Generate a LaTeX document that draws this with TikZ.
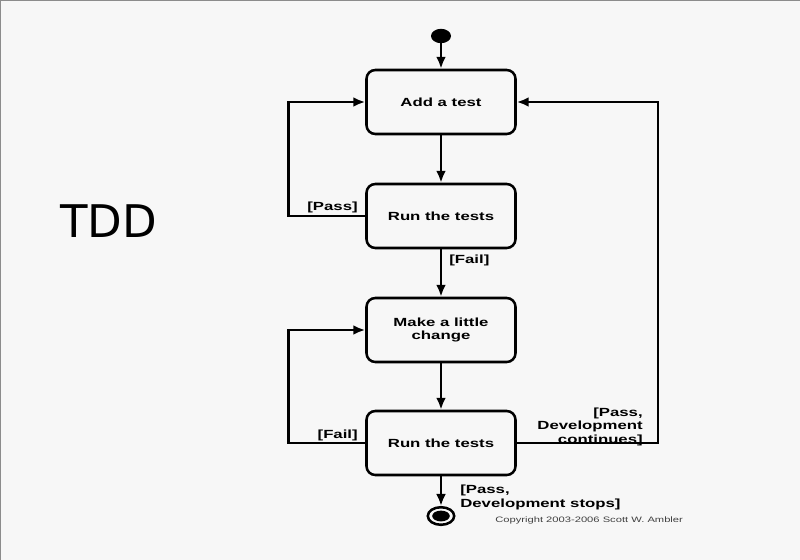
\documentclass[tikz,border=0pt]{standalone}
\usepackage{fontspec}
\usetikzlibrary{arrows.meta,shapes.geometric}
\newfontfamily\diagfont[FakeStretch=1.42]{Liberation Sans}
\newfontfamily\titlefont{DejaVu Sans}
\begin{document}
\begin{tikzpicture}[scale=0.25,
  state/.style={draw=black, line width=1.8pt, rounded corners=0.22cm, minimum width=3.725cm, minimum height=1.6cm, align=center, font=\diagfont\bfseries\fontsize{8.4}{9.6}\selectfont},
  guard/.style={inner sep=0pt, align=right, font=\diagfont\bfseries\fontsize{8.4}{9.6}\selectfont},
  flow/.style={draw=black, line width=1.8pt, -{Latex[length=8.5pt,width=7pt]}}]
\fill [black!3] (0,0) rectangle (80,-56);
\useasboundingbox (0,0) rectangle (80,-56);
\draw [black!45, line width=0.8pt] (0,-56) -- (0,0) -- (80,0);
\node [font=\titlefont\fontsize{32}{36}\selectfont] (title) at (10.85,-22.1) {TDD};
\node [ellipse, fill=black, minimum width=0.5cm, minimum height=0.36cm, inner sep=0pt] (start) at (44.1,-3.6) {};
\node [state] (add) at (44.1,-10.2) {Add a test};
\node [state] (run1) at (44.1,-21.6) {Run the tests};
\node [state] (change) at (44.1,-33.0) {Make a little\\change};
\node [state] (run2) at (44.1,-44.3) {Run the tests};
\node [ellipse, draw=black, line width=1.8pt, minimum width=0.66cm, minimum height=0.44cm, inner sep=0pt] (stop) at (44.1,-51.6) {};
\fill [black] (stop.center) ellipse (0.88 and 0.54);
\draw [flow] (start) -- (add);
\draw [flow] (add) -- (run1);
\draw [flow] (run1) -- (change);
\draw [flow] (change) -- (run2);
\draw [flow] (run2) -- (stop);
\draw [flow] (run1.west) -- ++(-7.7,0) |- (add.west);
\draw [flow] (run2.west) -- ++(-7.7,0) |- (change.west);
\draw [flow] (run2.east) -- ++(14.1,0) |- (add.east);
\node [guard, anchor=east] (pass1) at (35.8,-20.7) {[Pass]};
\node [guard, anchor=west] (fail1) at (44.9,-26.0) {[Fail]};
\node [guard, anchor=east] (fail2) at (35.8,-43.5) {[Fail]};
\node [guard, anchor=east] (passgo) at (64.3,-42.65) {[Pass,\\Development\\continues]};
\node [guard, anchor=west, align=left] (passstop) at (46.0,-49.75) {[Pass,\\Development stops]};
\node [inner sep=0pt, anchor=west, text=black!75, font=\diagfont\fontsize{5.6}{6.5}\selectfont] (copy) at (49.5,-52.0) {Copyright 2003-2006 Scott W. Ambler};
\end{tikzpicture}
\end{document}
